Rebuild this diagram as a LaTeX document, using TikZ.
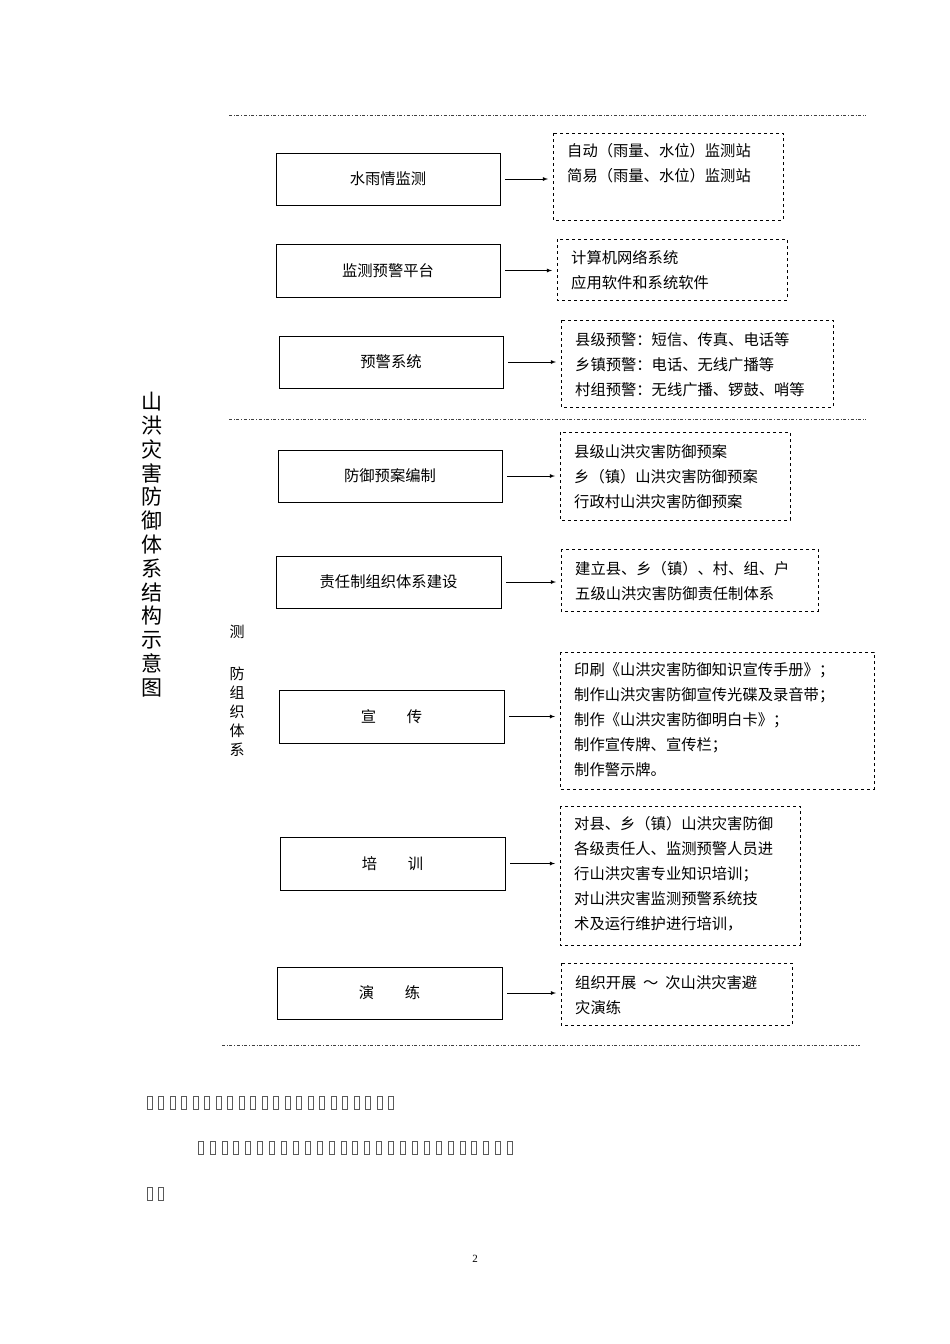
\documentclass[tikz,border=0pt]{standalone}
\usepackage{fontspec}
\setmainfont{Liberation Serif}
\newfontfamily\cjk{Noto Sans CJK SC}
\begin{document}
\begin{tikzpicture}[x=1pt,y=-1pt,
 rbox/.style={draw,dashed,line width=0.6pt},
 rtxt/.style={anchor=north west,align=left,inner sep=0pt,font=\cjk\fontsize{15.3}{25}\selectfont},
 arr/.style={-latex,line width=0.8pt},
 dd/.style={dash dot,line width=1pt,black!75}]
\useasboundingbox (0,0) rectangle (950,1344);
\draw[dd] (229,115)--(866,115);
\draw[dd] (229,419)--(866,419);
\draw[dd] (222,1045)--(860,1045);
\foreach \n/\xa/\ya/\xb/\yb/\t in {1/276/153/500/205/水雨情监测,2/276/244/500/297/监测预警平台,3/279/336/503/388/预警系统,4/278/450/502/502/防御预案编制,5/276/556/501/608/责任制组织体系建设,6/279/690/504/743/宣\quad\quad 传,7/280/837/505/890/培\quad\quad 训,8/277/967/502/1019/演\quad\quad 练}{
 \draw[line width=0.8pt] (\xa,\ya) rectangle (\xb,\yb);
 \node[font=\cjk\fontsize{15.3}{16}\selectfont] (L\n) at ({(\xa+\xb)/2},{(\ya+\yb)/2}) {\t};
 \coordinate (Le\n) at (\xb,{(\ya+\yb)/2});
}
\foreach \n/\xa/\ya/\xb/\yb in {1/553/133/783/220,2/557/239/787/300,3/561/320/833/407,4/560/432/790/520,5/561/549/818/611,6/560/652/874/789,7/560/806/800/945,8/561/963/792/1025}{
 \draw[rbox] (\xa,\ya) rectangle (\xb,\yb);
 \coordinate (Re\n) at (\xa,0);
 \coordinate (TL\n) at ({\xa+14},{\ya+10});
}
\foreach \n in {1,...,8}{\draw[arr] ([xshift=5pt]Le\n) -- ([xshift=-5pt]Re\n|-Le\n);}
\node[rtxt] (T1) at (TL1) {自动（雨量、水位）监测站\\简易（雨量、水位）监测站};
\node[rtxt] (T2) at ([yshift=-1]TL2) {计算机网络系统\\应用软件和系统软件};
\node[rtxt] (T3) at ([yshift=-2]TL3) {县级预警：短信、传真、电话等\\乡镇预警：电话、无线广播等\\村组预警：无线广播、锣鼓、哨等};
\node[rtxt] (T4) at ([yshift=-2]TL4) {县级山洪灾害防御预案\\乡（镇）山洪灾害防御预案\\行政村山洪灾害防御预案};
\node[rtxt] (T5) at ([yshift=-2]TL5) {建立县、乡（镇）、村、组、户\\五级山洪灾害防御责任制体系};
\node[rtxt] (T6) at (TL6) {印刷《山洪灾害防御知识宣传手册》；\\制作山洪灾害防御宣传光碟及录音带；\\制作《山洪灾害防御明白卡》；\\制作宣传牌、宣传栏；\\制作警示牌。};
\node[rtxt] (T7) at (TL7) {对县、乡（镇）山洪灾害防御\\各级责任人、监测预警人员进\\行山洪灾害专业知识培训；\\对山洪灾害监测预警系统技\\术及运行维护进行培训，};
\node[rtxt] (T8) at ([yshift=-2]TL8) {组织开展 \ ～ \ 次山洪灾害避\\灾演练};
\node[anchor=north,align=center,inner sep=0pt,font=\cjk\fontsize{21}{23.8}\selectfont] (title) at (152,392) {山\\洪\\灾\\害\\防\\御\\体\\系\\结\\构\\示\\意\\图};
\node[anchor=north,inner sep=0pt,font=\cjk\fontsize{15}{16}\selectfont] (c1) at (237,625) {测};
\node[anchor=north,align=center,inner sep=0pt,font=\cjk\fontsize{15}{19}\selectfont] (c2) at (237,667) {防\\组\\织\\体\\系};
\foreach \i in {0,...,21}{\draw[gray!70!black,line width=0.5pt] ({147+11.5*\i},1096) rectangle ++(5,13);}
\foreach \i in {0,...,26}{\draw[gray!70!black,line width=0.5pt] ({198+11.9*\i},1141) rectangle ++(5,13);}
\foreach \i in {0,1}{\draw[gray!70!black,line width=0.5pt] ({147+11.5*\i},1187) rectangle ++(5,13);}
\node[font=\fontsize{11}{12}\selectfont] (pg) at (475,1259) {2};
\end{tikzpicture}
\end{document}
